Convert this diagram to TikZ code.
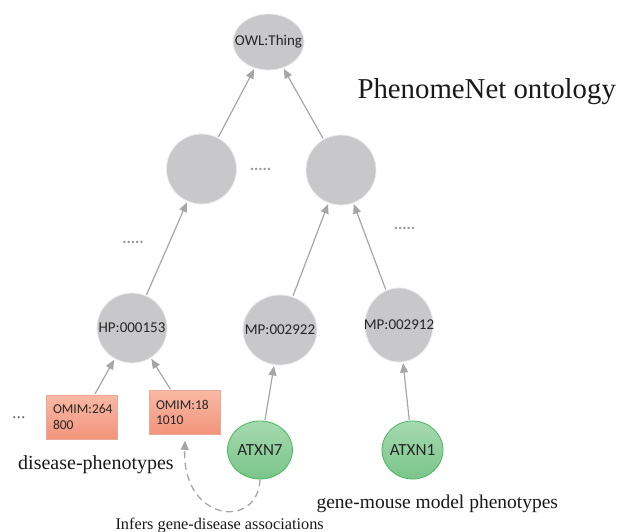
\documentclass[tikz,border=0pt]{standalone}
\usepackage{fontspec}
\setmainfont{Liberation Serif}
\newfontfamily\lblfont{Carlito}
\usetikzlibrary{shapes.geometric,arrows.meta}
\definecolor{nodegray}{RGB}{200,200,202}
\definecolor{edgegray}{RGB}{166,166,168}
\definecolor{omimtop}{RGB}{249,184,164}
\definecolor{omimbot}{RGB}{242,148,124}
\definecolor{omimedge}{RGB}{232,170,150}
\definecolor{genetop}{RGB}{166,218,176}
\definecolor{genebot}{RGB}{122,196,138}
\definecolor{geneedge}{RGB}{72,184,92}
\definecolor{dotgray}{RGB}{150,150,150}
\newcommand\ztxt[1]{\makebox[0pt]{#1}}
\tikzset{
  onto/.style={ellipse, fill=nodegray, draw=white!92!black, line width=0.8pt, inner sep=0pt,
    font=\lblfont\fontsize{15}{16}\selectfont, text=black!85},
  omim/.style={rectangle, top color=omimtop, bottom color=omimbot, draw=omimedge, line width=0.6pt,
    minimum width=71pt, minimum height=44pt, inner sep=0pt, text width=58pt, align=left,
    font=\lblfont\fontsize{13.5}{15.5}\selectfont, text=black!85},
  gene/.style={ellipse, top color=genetop, bottom color=genebot, draw=geneedge, line width=0.8pt, inner sep=0pt,
    font=\lblfont\fontsize{17}{18}\selectfont, text=black!85},
  isa/.style={draw=edgegray, line width=1.2pt, -{Triangle[length=9.5pt,width=8pt]}, shorten >=1pt, shorten <=1pt},
  dotstxt/.style={font=\lblfont\bfseries\fontsize{16}{16}\selectfont, text=dotgray},
  captext/.style={font=\fontsize{20}{22}\selectfont, text=black!90}
}
\begin{document}
\begin{tikzpicture}[x=1pt,y=-1pt]
\useasboundingbox (0,0) rectangle (630,532);
% ontology nodes
\node[onto, minimum width=71pt, minimum height=56pt] (owl) at (268.5,42) {\ztxt{OWL:Thing}};
\node[onto, minimum width=70pt, minimum height=70pt] (midl) at (201.5,169) {};
\node[onto, minimum width=70pt, minimum height=70pt] (midr) at (341,170) {};
\node[onto, minimum width=70pt, minimum height=70pt] (hp) at (132,328) {\ztxt{HP:000153}};
\node[onto, minimum width=74pt, minimum height=70pt] (mp1) at (280,330) {\ztxt{MP:002922}};
\node[onto, minimum width=68pt, minimum height=74pt] (mp2) at (399,325) {\ztxt{MP:002912}};
% disease phenotypes
\node[omim] (om1) at (82,417) {OMIM:264\\800};
\node[omim] (om2) at (185,412.5) {OMIM:18\\1010};
% genes
\node[gene, minimum width=65pt, minimum height=58pt] (atxn7) at (260,450) {\ztxt{ATXN7}};
\node[gene, minimum width=61pt, minimum height=58pt] (atxn1) at (412.5,450) {\ztxt{ATXN1}};
% dots
\node[dotstxt] (d1) at (260.5,169) {.....};
\node[dotstxt] (d2) at (133,242) {.....};
\node[dotstxt] (d3) at (404.5,228) {.....};
\node[font=\fontsize{18}{18}\selectfont, text=black!60] (d4) at (19,418) {...};
% is-a edges
\draw[isa] (midl) -- (owl);
\draw[isa] (midr) -- (owl);
\draw[isa] (hp) -- (midl);
\draw[isa] (mp1) -- (midr);
\draw[isa] (mp2) -- (midr);
\draw[isa] (om1) -- (hp);
\draw[isa] (om2) -- (hp);
\draw[isa] (atxn7) -- (mp1);
\draw[isa] (atxn1) -- (mp2);
% inferred association
\coordinate (curvelow1) at (258,530);
\coordinate (curvelow2) at (182,522);
\draw[draw=edgegray, line width=1.3pt, dash pattern=on 7pt off 4.5pt, -{Triangle[length=9pt,width=8pt]}]
  (atxn7.south) .. controls (curvelow1) and (curvelow2) .. ([yshift=-6pt]om2.south);
% captions
\node[font=\fontsize{28.8}{30}\selectfont, anchor=base west, text=black!90] (title) at (354,99) {PhenomeNet ontology};
\node[captext, anchor=base] (capd) at (96,469) {disease-phenotypes};
\node[captext, font=\fontsize{19.5}{21}\selectfont, anchor=base west] (capg) at (313,508) {gene-mouse model phenotypes};
\node[font=\fontsize{16.3}{17}\selectfont, anchor=base west, text=black!90] (capi) at (112,529) {Infers gene-disease associations};
\end{tikzpicture}
\end{document}
